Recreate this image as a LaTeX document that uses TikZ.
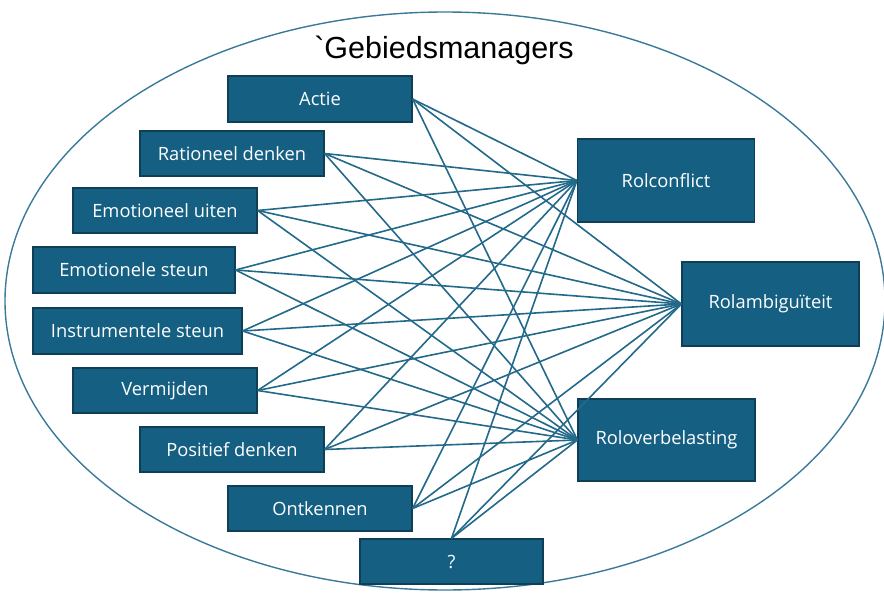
\documentclass[tikz,border=0pt]{standalone}
\usepackage{fontspec}
\setmainfont{Open Sans}
\newfontfamily\titlefont{Liberation Sans}
\definecolor{boxfill}{HTML}{156082}
\definecolor{boxedge}{HTML}{0E3F56}
\definecolor{linkcol}{HTML}{22698A}
\definecolor{ringcol}{HTML}{3A7A99}
\begin{document}
\begin{tikzpicture}[x=1pt,y=-1pt,
  box/.style={draw=boxedge,line width=1.2pt,fill=boxfill,text=white,inner sep=0pt,
    font=\fontsize{18.3}{21}\selectfont},
  link/.style={draw=linkcol,line width=1.6pt}]
\useasboundingbox (0,0) rectangle (884,594);
\draw[ringcol,line width=1.4pt] (445,301) ellipse [x radius=440, y radius=289];
\node[font=\titlefont\fontsize{30.5}{33}\selectfont] (title) at (444,50) {`Gebiedsmanagers};
% left boxes
\node[box,minimum width=184pt,minimum height=46pt] (a) at (320,99) {Actie};
\node[box,minimum width=184pt,minimum height=45pt] (b) at (232,153.5) {Rationeel denken};
\node[box,minimum width=184pt,minimum height=45pt] (c) at (165,210.5) {Emotioneel uiten};
\node[box,minimum width=202pt,minimum height=46pt] (d) at (134,270) {Emotionele steun};
\node[box,minimum width=209pt,minimum height=46pt] (e) at (137.5,331) {Instrumentele steun};
\node[box,minimum width=184pt,minimum height=45pt] (f) at (165,390.5) {Vermijden};
\node[box,minimum width=184pt,minimum height=45pt] (g) at (232,449.5) {Positief denken};
\node[box,minimum width=184pt,minimum height=45pt] (h) at (320,508.5) {Ontkennen};
\node[box,minimum width=183pt,minimum height=45pt] (q) at (451.5,561.5) {?};
% right boxes
\node[box,minimum width=177pt,minimum height=83pt] (r1) at (666,180.5) {Rolconflict};
\node[box,minimum width=177pt,minimum height=84pt] (r2) at (770.5,304) {Rolambiguïteit};
\node[box,minimum width=177pt,minimum height=82pt] (r3) at (666.5,440) {Roloverbelasting};
% links
\foreach \s in {a,b,c,d,e,f,g,h}{
  \foreach \t in {r1,r2,r3}{
    \draw[link] (\s.east) -- (\t.west);
  }
}
\foreach \t in {r1,r2,r3}{
  \draw[link] (q.north) -- (\t.west);
}
\end{tikzpicture}
\end{document}
